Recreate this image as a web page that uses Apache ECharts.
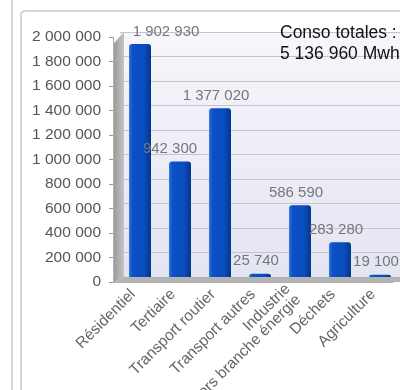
<!DOCTYPE html>
<html>
<head>
    <meta charset="utf-8">
    <title>Conso</title>
    <script src="https://cdn.jsdelivr.net/npm/echarts@6.0.0/dist/echarts.min.js"></script>
    <style>
        body { margin: 0; background: #fff; }
    </style>
</head>
<body>
<div id="main" style="width: 400px;height:390px;"></div>
<script type="text/javascript">
    // données
    var categories = ['Résidentiel', 'Tertiaire', 'Transport routier', 'Transport autres',
        'Industrie\nhors branche énergie', 'Déchets', 'Agriculture'];
    var conso = [1902930, 942300, 1377020, 25740, 586590, 283280, 19100];
    var yTicks = [0, 2000000, 200000]; // min, max, pas
    var totalText = ['Conso totales :', '5 136 960 Mwh'];

    function fmt(v) {
        return String(v).replace(/\B(?=(\d{3})+(?!\d))/g, ' ');
    }

    var myChart = echarts.init(document.getElementById('main'));

    var barColor = new echarts.graphic.LinearGradient(0, 0, 1, 0, [
        {offset: 0, color: '#3a78dc'},
        {offset: 0.15, color: '#0b52c6'},
        {offset: 0.7, color: '#094cbd'},
        {offset: 1, color: '#04368a'}
    ]);

    var labelOffsets = {0: [26, 0], 1: [-10, 0]};
    var barData = conso.map(function (v, i) {
        var item = {value: v};
        if (labelOffsets[i]) item.label = {offset: labelOffsets[i]};
        return item;
    });

    var option = {
        backgroundColor: '#fff',
        textStyle: {fontFamily: 'Liberation Sans, Arial, sans-serif'},
        grid: [
            {left: 113, right: 7, top: 37, bottom: 108, outerBoundsMode: 'none', containLabel: false},
            {left: 120, right: 0, top: 32, bottom: 113, show: true, outerBoundsMode: 'none', containLabel: false,
                borderWidth: 0,
                backgroundColor: new echarts.graphic.LinearGradient(0, 0, 0, 1, [
                    {offset: 0, color: '#f6f6fb'},
                    {offset: 1, color: '#e4e5f2'}
                ])}
        ],
        xAxis: [{
            type: 'category',
            gridIndex: 0,
            data: categories,
            axisLine: {lineStyle: {color: '#b0b0b0'}},
            axisTick: {length: 5, lineStyle: {color: '#999'}},
            axisLabel: {
                rotate: 45,
                interval: 0,
                color: '#666',
                fontSize: 15.5,
                lineHeight: 15,
                margin: 10
            }
        }, {
            type: 'category',
            gridIndex: 1,
            data: categories,
            show: false
        }],
        yAxis: [{
            type: 'value',
            gridIndex: 0,
            min: yTicks[0],
            max: yTicks[1],
            interval: yTicks[2],
            axisLine: {show: true, lineStyle: {color: '#b0b0b0'}},
            axisTick: {show: true, length: 4, lineStyle: {color: '#999'}},
            splitLine: {show: false},
            axisLabel: {
                color: '#555',
                fontSize: 15.5,
                margin: 12,
                formatter: fmt
            }
        }, {
            type: 'value',
            gridIndex: 1,
            min: yTicks[0],
            max: yTicks[1],
            interval: yTicks[2],
            axisLine: {show: false},
            axisTick: {show: false},
            axisLabel: {show: false},
            splitLine: {lineStyle: {color: '#c4c4cc', width: 1}}
        }],
        series: [{
            type: 'bar',
            xAxisIndex: 1,
            yAxisIndex: 1,
            data: barData,
            barWidth: 22,
            itemStyle: {color: barColor, borderRadius: [3, 3, 0, 0]},
            label: {
                show: true,
                position: 'top',
                offset: [-4, 0],
                color: '#777',
                fontSize: 15,
                formatter: function (p) { return fmt(p.value); }
            },
            z: 5
        }],
        graphic: [
            // cadres
            {type: 'line', shape: {x1: 12, y1: 0, x2: 12, y2: 390},
                style: {stroke: '#d4d4d4', lineWidth: 2}, silent: true},
            {type: 'rect', shape: {x: 21, y: 11, width: 400, height: 400, r: 4},
                style: {fill: 'none', stroke: '#d4d4d4', lineWidth: 2}, silent: true},
            // mur gauche
            {type: 'polygon', shape: {points: [[114, 43], [124, 32], [124, 277], [114, 282]]},
                style: {fill: new echarts.graphic.LinearGradient(0, 0, 1, 0, [
                    {offset: 0, color: '#9c9c9c'}, {offset: 1, color: '#c4c4c4'}])},
                z: 1, silent: true},
            // sol
            {type: 'polygon', shape: {points: [[114, 282], [124, 277], [400, 277], [400, 282]]},
                style: {fill: '#b4b4b4'}, z: 1, silent: true},
            // total
            {type: 'text', left: 280, top: 23, z: 10,
                style: {text: totalText.join('\n'), font: '17.5px Liberation Sans, Arial, sans-serif',
                    fill: '#111', lineHeight: 21}}
        ]
    };

    myChart.setOption(option);
</script>
</body>
</html>
